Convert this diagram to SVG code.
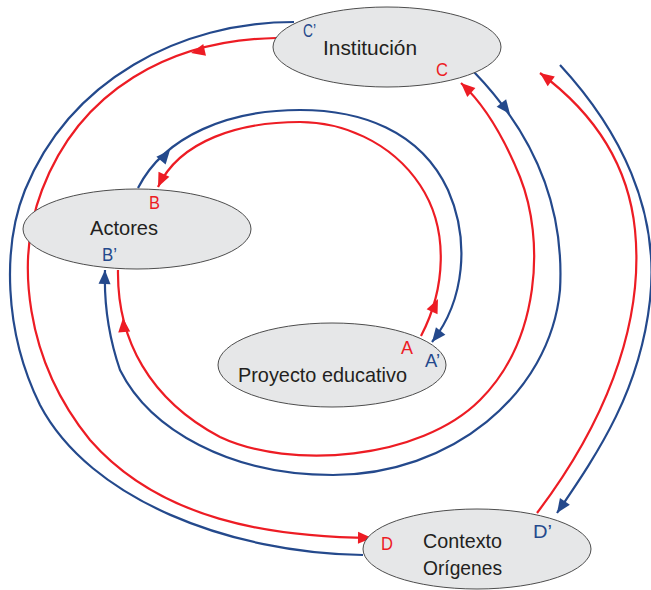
<svg xmlns="http://www.w3.org/2000/svg" xmlns:xlink="http://www.w3.org/1999/xlink" width="651" height="590" viewBox="0 0 651 590">
<style>
.r{fill:none;stroke:#ed1c24;stroke-width:2.2}
.b{fill:none;stroke:#24498c;stroke-width:2.2}
.node{fill:#e6e7e8;stroke:#4d4d4d;stroke-width:1}
.t{font-family:"Liberation Sans",Arial,sans-serif;font-size:21px;fill:#231f20}
.lr{font-family:"Liberation Sans",Arial,sans-serif;font-size:19px;fill:#ed1c24}
.lb{font-family:"Liberation Sans",Arial,sans-serif;font-size:19px;fill:#24498c}
</style>
<defs>
<marker id="arR" viewBox="-15 -7 16 14" markerWidth="16" markerHeight="14" refX="0" refY="0" orient="auto" markerUnits="userSpaceOnUse"><path d="M0,0 L-14,-6 L-14,6 Z" fill="#ed1c24"/></marker>
<marker id="arB" viewBox="-15 -7 16 14" markerWidth="16" markerHeight="14" refX="0" refY="0" orient="auto" markerUnits="userSpaceOnUse"><path d="M0,0 L-14,-6 L-14,6 Z" fill="#24498c"/></marker>
<path id="tri" d="M0,0 L-14,-6 L-14,6 Z"/>
</defs>
<g id="connectors">
<path class="r" d="M421,336 C445,290 450,230 420,185 C390,140 340,122 300,122 C240,122 180,140 158,187" marker-end="url(#arR)"/>
<use xlink:href="#tri" fill="#ed1c24" transform="translate(438,299) rotate(-65)"/>
<path class="b" d="M138,188 C165,135 230,110 300,110 C360,110 420,130 448,190 C470,240 465,300 432,342" marker-end="url(#arB)"/>
<use xlink:href="#tri" fill="#24498c" transform="translate(170,150) rotate(-50)"/>
<path class="b" d="M474,72 C530,130 565,200 560,290 C550,395 450,475 333,475 C230,475 150,430 120,370 C108,335 104,300 105,270" marker-end="url(#arB)"/>
<use xlink:href="#tri" fill="#24498c" transform="translate(510,114) rotate(52)"/>
<path class="r" d="M118,270 C117,340 150,400 220,437 C290,470 420,460 480,400 C540,340 545,240 520,177 C505,140 485,105 461,83" marker-end="url(#arR)"/>
<use xlink:href="#tri" fill="#ed1c24" transform="translate(123,318) rotate(-95)"/>
<path class="b" d="M294,22 C180,22 70,80 25,190 C3,245 3,330 40,405 C90,500 230,553 363,555"/>
<path class="r" d="M276,38 C170,40 80,90 42,190 C15,260 25,360 90,440 C160,520 270,537 372,538" marker-end="url(#arR)"/>
<use xlink:href="#tri" fill="#ed1c24" transform="translate(191,53) rotate(167)"/>
<path class="r" d="M537,513 C600,430 645,330 635,230 C628,160 590,110 540,73" marker-end="url(#arR)"/>
<path class="b" d="M560,65 C620,130 660,210 650,300 C640,390 600,450 557,513" marker-end="url(#arB)"/>
</g>
<g id="institucion">
<ellipse class="node" cx="387" cy="47" rx="114" ry="40"/>
<text class="t" x="323" y="55" textLength="94" lengthAdjust="spacingAndGlyphs">Institución</text>
<text class="lb" x="303" y="37" textLength="13" lengthAdjust="spacingAndGlyphs">C’</text>
<text class="lr" x="436" y="76" textLength="12" lengthAdjust="spacingAndGlyphs">C</text>
</g>
<g id="actores">
<ellipse class="node" cx="137" cy="229" rx="114" ry="40"/>
<text class="t" x="90" y="235" textLength="68" lengthAdjust="spacingAndGlyphs">Actores</text>
<text class="lr" x="149" y="209" textLength="11" lengthAdjust="spacingAndGlyphs">B</text>
<text class="lb" x="102" y="261" textLength="15" lengthAdjust="spacingAndGlyphs">B’</text>
</g>
<g id="proyecto">
<ellipse class="node" cx="332" cy="365" rx="114" ry="42"/>
<text class="t" x="238" y="382" textLength="169" lengthAdjust="spacingAndGlyphs">Proyecto educativo</text>
<text class="lr" x="401" y="354" textLength="12" lengthAdjust="spacingAndGlyphs">A</text>
<text class="lb" x="425" y="367" textLength="15" lengthAdjust="spacingAndGlyphs">A’</text>
</g>
<g id="contexto">
<ellipse class="node" cx="477" cy="549" rx="114" ry="40"/>
<text class="t" x="423" y="548" textLength="79" lengthAdjust="spacingAndGlyphs">Contexto</text>
<text class="t" x="423" y="575" textLength="79" lengthAdjust="spacingAndGlyphs">Orígenes</text>
<text class="lr" x="381" y="550" textLength="12" lengthAdjust="spacingAndGlyphs">D</text>
<text class="lb" x="533" y="538" textLength="19" lengthAdjust="spacingAndGlyphs">D’</text>
</g>
</svg>
